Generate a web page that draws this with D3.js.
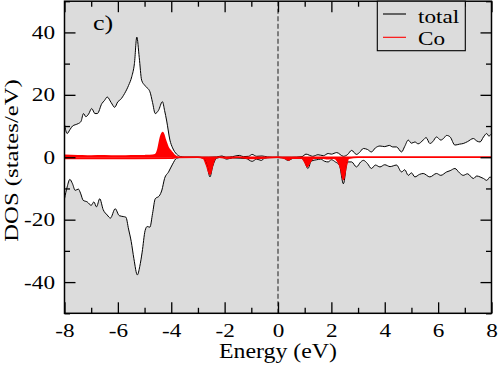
<!DOCTYPE html>
<html>
<head>
<meta charset="utf-8">
<script src="https://cdn.jsdelivr.net/npm/d3@7"></script>
<style>
  body { margin: 0; background: #fff; }
  text { font-family: "Liberation Serif", "Times New Roman", serif; fill: #000; }
</style>
</head>
<body>
<div id="chart-area"></div>
<script>
// total DOS, spin up
const upE = [-8.0, -7.9, -7.8, -7.7, -7.6, -7.48, -7.38, -7.29, -7.2, -7.1, -6.98, -6.86, -6.77, -6.6, -6.5, -6.4, -6.25, -6.12, -6.0, -5.9, -5.75, -5.6, -5.48, -5.38, -5.29, -5.2, -5.11, -4.99, -4.8, -4.7, -4.6, -4.48, -4.33, -4.25, -4.17, -4.05, -3.95, -3.8, -3.65, -3.5,
  -2.6, -2.3, -2.1, -1.95, -1.7, -1.45, -1.3, -1.1, -0.97, -0.8, -0.6, -0.4, -0.2, 0.5, 0.9, 1.05, 1.3, 1.5, 1.7, 1.88, 2.0, 2.2, 2.45, 2.6, 2.76, 2.94, 3.05, 3.2, 3.35, 3.5, 3.65, 3.82, 4.0, 4.17, 4.3, 4.44, 4.63, 4.75, 4.88, 5.0, 5.13, 5.25, 5.44, 5.55, 5.69, 5.8, 5.94, 6.1, 6.2, 6.32, 6.45, 6.63, 6.8, 6.94, 7.1, 7.32, 7.45, 7.57, 7.7, 7.82, 7.9, 8.0];
const upDOS = [10.5, 7.6, 8.8, 10.0, 10.4, 10.8, 11.5, 14.0, 13.0, 13.8, 15.6, 14.0, 14.0, 17.2, 18.2, 19.3, 17.5, 16.0, 17.8, 18.5, 20.4, 23.0, 25.8, 30.0, 38.5, 32.0, 24.7, 23.0, 21.0, 17.5, 14.0, 15.0, 17.8, 15.0, 11.6, 5.5, 3.0, 1.0, 0.2, 0.0,
  0.0, 0.1, 0.4, 0.0, 0.2, 0.6, 0.2, 0.3, 0.9, 0.3, 0.4, 0.1, 0.0, 0.0, 0.2, 1.0, 0.3, 0.8, 0.5, 1.2, 1.0, 1.5, 0.3, 0.8, 2.2, 0.9, 1.5, 2.8, 2.5, 1.7, 3.0, 3.6, 3.4, 3.8, 3.3, 3.3, 1.7, 3.5, 5.5, 4.5, 4.9, 4.3, 5.5, 6.3, 4.4, 5.0, 6.5, 5.5, 6.0, 7.0, 6.5, 3.9, 4.2, 4.4, 5.0, 6.0, 5.2, 4.9, 6.5, 7.6, 6.8, 7.5];

// total DOS, spin down
const dnE = [-8.0, -7.9, -7.8, -7.7, -7.6, -7.48, -7.4, -7.3, -7.15, -7.0, -6.9, -6.8, -6.68, -6.55, -6.4, -6.28, -6.1, -5.95, -5.8, -5.7, -5.6, -5.5, -5.4, -5.27, -5.18, -5.09, -4.98, -4.9, -4.8, -4.7, -4.6, -4.45, -4.35, -4.25, -4.1, -3.95, -3.8, -3.6,
  -3.0, -2.8, -2.65, -2.55, -2.45, -2.3, -2.1, -1.92, -1.7, -1.42, -1.2, -0.97, -0.8, -0.63, -0.5, -0.3, 0.0, 0.2, 0.37, 0.6, 0.9, 1.0, 1.12, 1.25, 1.45, 1.6, 1.75, 1.88, 2.0, 2.15, 2.3, 2.45, 2.6, 2.76, 2.94, 3.1, 3.2, 3.35, 3.5, 3.65, 3.82, 4.0, 4.2, 4.44, 4.63, 4.75, 4.88, 5.0, 5.13, 5.3, 5.44, 5.69, 5.94, 6.1, 6.32, 6.45, 6.63, 6.8, 6.94, 7.1, 7.32, 7.45, 7.57, 7.7, 7.82, 7.95, 8.0];
const dnDOS = [-13.3, -9.5, -7.1, -8.5, -10.6, -10.2, -11.5, -13.8, -14.3, -15.4, -14.3, -15.9, -13.3, -16.8, -18.5, -19.5, -16.5, -18.7, -19.0, -19.2, -23.0, -27.0, -32.5, -37.7, -35.0, -30.4, -23.5, -22.2, -22.4, -18.0, -13.3, -12.4, -10.5, -6.8, -4.7, -2.2, -0.3, 0.0,
  0.0, -0.3, -3.0, -6.3, -3.0, -0.3, 0.0, -0.6, -0.2, -0.3, -0.4, -1.3, -0.6, -1.0, -0.3, -0.1, -0.1, -0.2, -1.0, -0.3, -0.4, -1.5, -3.6, -1.2, -0.8, -0.6, -1.3, -1.5, -0.8, -1.5, -2.5, -8.5, -1.5, -1.5, -3.1, -1.5, -1.0, -2.0, -3.6, -2.5, -3.1, -2.4, -3.0, -2.5, -4.7, -4.0, -5.8, -5.0, -6.3, -5.5, -5.2, -6.3, -5.2, -5.8, -4.7, -4.3, -3.6, -5.0, -5.8, -5.3, -6.8, -6.0, -6.3, -6.8, -7.4, -6.3, -6.8];

// Co projected DOS
const coUpE = [-8.0, -7.5, -7.0, -6.5, -6.0, -5.5, -5.0, -4.7, -4.6, -4.5, -4.4, -4.32, -4.22, -4.12, -4.0, -3.9, -3.8, -3.7, 8.0];
const coUp = [0.6, 0.5, 0.4, 0.45, 0.35, 0.45, 0.5, 0.6, 0.8, 2.5, 6.5, 7.9, 5.5, 3.2, 1.8, 0.8, 0.2, 0.0, 0.0];
const coDnE = [-8.0, -6.0, -4.0, -3.8, -3.0, -2.8, -2.68, -2.55, -2.45, -2.35, -2.2, -1.9, -1.5, -1.0, -0.6, 0.0, 0.3, 0.4, 0.5, 0.9, 1.0, 1.1, 1.2, 1.35, 1.7, 1.85, 2.1, 2.25, 2.35, 2.45, 2.55, 2.65, 3.0, 8.0];
const coDn = [-0.4, -0.4, -0.3, -0.1, 0.0, -0.3, -2.5, -5.5, -2.5, -0.3, 0.0, -0.3, 0.0, -0.4, -0.3, 0.0, -0.5, -0.9, -0.3, -0.3, -1.5, -3.0, -1.5, -0.3, -0.3, -0.5, -0.3, -1.5, -3.5, -7.2, -3.0, -0.3, 0.0, 0.0];

const xMajor = [-8, -6, -4, -2, 0, 2, 4, 6, 8];
const xMinor = [-7, -5, -3, -1, 1, 3, 5, 7];
const yMajor = [-40, -20, 0, 20, 40];
const yMinor = [-50, -30, -10, 10, 30, 50];

const margin = { left: 64.5, right: 6.5, top: 1.2, bottom: 51.7 };
const width = 498 - margin.left - margin.right;
const height = 365 - margin.top - margin.bottom;

const svg = d3.select("#chart-area")
    .append("svg")
    .attr("width", 498)
    .attr("height", 365);

const g = svg.append("g")
    .attr("transform", "translate(" + margin.left + "," + margin.top + ")");

const x = d3.scaleLinear().domain([-8, 8]).range([0, width]);
const y = d3.scaleLinear().domain([-50, 50]).range([height, 0]);

// stretch text along its direction (the reference font is wider)
function widen(sel, k) {
    sel.each(function() {
        const w = this.getComputedTextLength();
        d3.select(this).attr("textLength", w * k).attr("lengthAdjust", "spacingAndGlyphs");
    });
}

g.append("rect")
    .attr("width", width)
    .attr("height", height)
    .attr("fill", "#dcdcdc");

const zip = (es, vs) => es.map((e, i) => [e, vs[i]]);

const area = d3.area()
    .x(d => x(d[0]))
    .y0(y(0))
    .y1(d => y(d[1]))
    .curve(d3.curveMonotoneX);

const line = d3.line()
    .x(d => x(d[0]))
    .y(d => y(d[1]))
    .curve(d3.curveMonotoneX);

const totalUp = zip(upE, upDOS);
const totalDn = zip(dnE, dnDOS);
const coUpData = zip(coUpE, coUp);
const coDnData = zip(coDnE, coDn);

[totalUp, totalDn].forEach(d => {
    g.append("path").attr("d", area(d)).attr("fill", "#fff");
});
[coUpData, coDnData].forEach(d => {
    g.append("path").attr("d", area(d)).attr("fill", "#ff0000");
});

// Fermi level
g.append("line")
    .attr("x1", x(0)).attr("x2", x(0))
    .attr("y1", 0).attr("y2", height)
    .attr("stroke", "#555")
    .attr("stroke-width", 1.4)
    .attr("stroke-dasharray", "5,2.5");

[totalUp, totalDn].forEach(d => {
    g.append("path").attr("d", line(d))
        .attr("fill", "none").attr("stroke", "#000").attr("stroke-width", 1);
});
[coUpData, coDnData].forEach(d => {
    g.append("path").attr("d", line(d))
        .attr("fill", "none").attr("stroke", "#ff0000").attr("stroke-width", 1.6);
});

// Axes, ticks inward on all sides
function ticks(axis, vals, size, show) {
    return axis.tickValues(vals).tickSize(-size).tickPadding(show ? show : 3)
        .tickFormat(show ? (d => String(d)) : "");
}

const xAxisGroup = g.append("g").attr("transform", "translate(0," + height + ")");
xAxisGroup.call(ticks(d3.axisBottom(x), xMajor, 11, 10));
g.append("g").attr("transform", "translate(0," + height + ")")
    .call(ticks(d3.axisBottom(x), xMinor, 5.5));
g.append("g").call(ticks(d3.axisTop(x), xMajor, 11));
g.append("g").call(ticks(d3.axisTop(x), xMinor, 5.5));

const yAxisGroup = g.append("g");
yAxisGroup.call(ticks(d3.axisLeft(y), yMajor, 11, 9.5));
g.append("g").call(ticks(d3.axisLeft(y), yMinor, 5.5));
g.append("g").attr("transform", "translate(" + width + ",0)")
    .call(ticks(d3.axisRight(y), yMajor, 11));
g.append("g").attr("transform", "translate(" + width + ",0)")
    .call(ticks(d3.axisRight(y), yMinor, 5.5));

g.selectAll(".domain").remove();
g.selectAll(".tick line").attr("stroke", "#000").attr("stroke-width", 1.3);
g.selectAll(".tick text").attr("font-size", "19px").attr("fill", "#000")
    .style("font-family", "'Liberation Serif', serif");
widen(g.selectAll(".tick text"), 1.22);

g.append("rect")
    .attr("width", width)
    .attr("height", height)
    .attr("fill", "none")
    .attr("stroke", "#000")
    .attr("stroke-width", 1.5);

// panel label
const lab = g.append("text")
    .attr("x", 93 - margin.left)
    .attr("y", 30 - margin.top)
    .attr("font-size", "20px")
    .text("c)");
widen(lab, 1.3);

// X Label
const xl = svg.append("text")
    .attr("x", margin.left + x(0))
    .attr("y", 357.5)
    .attr("font-size", "20px")
    .attr("text-anchor", "middle")
    .text("Energy (eV)");
widen(xl, 1.19);

// Y Label
const yl = svg.append("text")
    .attr("transform", "translate(18,160.5) rotate(-90)")
    .attr("font-size", "19px")
    .attr("text-anchor", "middle")
    .text("DOS (states/eV)");
widen(yl, 1.3);

// Legend
const legend = svg.append("g");
legend.append("rect")
    .attr("x", 377.3).attr("y", margin.top)
    .attr("width", 88).attr("height", 49.5)
    .attr("fill", "#dcdcdc")
    .attr("stroke", "#000")
    .attr("stroke-width", 1.1);
const entries = [["total", "#000", 14, 22.7], ["Co", "#ff0000", 37.3, 45]];
entries.forEach(e => {
    legend.append("line")
        .attr("x1", 383).attr("x2", 406)
        .attr("y1", e[2]).attr("y2", e[2])
        .attr("stroke", e[1]).attr("stroke-width", 1.1);
    const t = legend.append("text")
        .attr("x", 418).attr("y", e[3])
        .attr("font-size", "19px")
        .text(e[0]);
    widen(t, 1.22);
});
</script>
</body>
</html>
